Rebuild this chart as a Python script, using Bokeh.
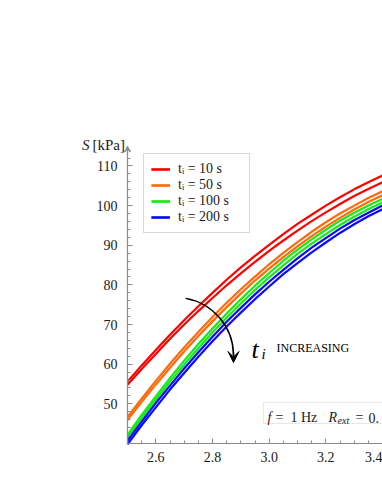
import math
from bokeh.plotting import figure
from bokeh.models import (Range1d, FixedTicker, Legend, LegendItem, Label, LinearAxis,
                          BoxAnnotation, Arrow, VeeHead, NumeralTickFormatter)
from bokeh.embed import file_html
from bokeh.resources import INLINE

# ---- data ----
x_vals = [2.50, 2.55, 2.60, 2.65, 2.70, 2.75, 2.80, 2.85, 2.90, 2.95,
          3.00, 3.05, 3.10, 3.15, 3.20, 3.25, 3.30, 3.35, 3.40]

red_upper = [55.6, 59.7, 63.6, 67.4, 71.1, 74.6, 78.0, 81.3, 84.4, 87.3,
             90.1, 92.8, 95.4, 97.7, 100.0, 102.1, 104.1, 105.9, 107.6]
red_lower = [54.8, 58.8, 62.6, 66.4, 70.0, 73.4, 76.7, 79.9, 82.9, 85.8,
             88.6, 91.2, 93.7, 96.1, 98.3, 100.4, 102.4, 104.2, 105.9]
orange_upper = [46.7, 51.3, 55.8, 60.1, 64.2, 68.1, 71.9, 75.5, 78.9, 82.1,
                85.2, 88.1, 90.8, 93.4, 95.8, 98.0, 100.0, 101.9, 103.6]
orange_lower = [45.9, 50.5, 54.9, 59.1, 63.2, 67.1, 70.8, 74.4, 77.8, 81.1,
                84.1, 87.0, 89.7, 92.3, 94.7, 96.9, 99.0, 100.9, 102.6]
green_upper = [42.2, 47.2, 51.9, 56.5, 60.9, 65.1, 69.0, 72.8, 76.4, 79.8,
               83.0, 86.1, 88.9, 91.5, 93.9, 96.2, 98.2, 100.0, 101.7]
green_lower = [41.5, 46.4, 51.1, 55.6, 59.9, 64.0, 68.0, 71.7, 75.3, 78.7,
               81.9, 84.9, 87.8, 90.4, 92.8, 95.1, 97.2, 99.1, 100.8]
blue_upper = [40.7, 45.5, 50.2, 54.6, 58.9, 63.0, 66.9, 70.7, 74.2, 77.6,
              80.8, 83.8, 86.7, 89.4, 91.8, 94.2, 96.3, 98.2, 100.0]
blue_lower = [39.8, 44.6, 49.1, 53.6, 57.8, 61.9, 65.8, 69.5, 73.0, 76.4,
              79.6, 82.7, 85.5, 88.2, 90.7, 93.1, 95.3, 97.3, 99.1]

series_labels = ["tᵢ = 10 s", "tᵢ = 50 s", "tᵢ = 100 s", "tᵢ = 200 s"]
series_colors = ["#ff0000", "#ff6a0a", "#14ec14", "#0a0aff"]
series_pairs = [(red_upper, red_lower), (orange_upper, orange_lower),
                (green_upper, green_lower), (blue_upper, blue_lower)]

x_major = [2.6, 2.8, 3.0, 3.2, 3.4]
x_minor = [2.50, 2.55, 2.60, 2.65, 2.70, 2.75, 2.80, 2.85, 2.90, 2.95,
           3.00, 3.05, 3.10, 3.15, 3.20, 3.25, 3.30, 3.35, 3.40]
y_major = [50, 60, 70, 80, 90, 100, 110]
y_minor = list(range(40, 115, 2))

FONT = "Liberation Serif"
AXIS_COL = "#8c8c8c"
TXT = "#1a1a1a"

# ---- layout: frame fills the whole canvas, axes sit at fixed data positions ----
W, H = 382, 486
XA, XB = 2.5, 3.4        # x extent of the axis
YA, YB = 40.0, 114.4     # y extent of the axis
AX_PX, AY_PX = 127, 443  # canvas pixel of the axes' corner
PX_PER_X = 255 / 0.9
PX_PER_Y = 3.965

def X(px):
    return XA + (px - AX_PX) / PX_PER_X
def Y(py):
    return YA + (AY_PX - py) / PX_PER_Y

p = figure(width=W, height=H, output_backend="svg", toolbar_location=None,
           x_range=Range1d(X(0), X(W)), y_range=Range1d(Y(H), Y(0)),
           x_axis_type=None, y_axis_type=None,
           min_border=0, min_border_left=0, min_border_right=0,
           min_border_top=0, min_border_bottom=0)
p.outline_line_color = None
p.background_fill_color = "white"
p.border_fill_color = "white"

xaxis = LinearAxis(fixed_location=YA, bounds=(XA, XB),
                   ticker=FixedTicker(ticks=x_major, minor_ticks=x_minor),
                   formatter=NumeralTickFormatter(format="0.0"))
yaxis = LinearAxis(fixed_location=XA, bounds=(YA, YB),
                   ticker=FixedTicker(ticks=y_major, minor_ticks=y_minor),
                   formatter=NumeralTickFormatter(format="0"))
for ax in (xaxis, yaxis):
    ax.axis_line_color = AXIS_COL
    ax.axis_line_width = 1.2
    ax.major_tick_line_color = AXIS_COL
    ax.minor_tick_line_color = AXIS_COL
    ax.major_tick_in = 5
    ax.major_tick_out = 0
    ax.minor_tick_in = 3
    ax.minor_tick_out = 0
    ax.major_label_text_font = FONT
    ax.major_label_text_font_size = "14px"
    ax.major_label_text_color = TXT
yaxis.major_label_standoff = 10
xaxis.major_label_standoff = 8
p.add_layout(xaxis, "below")
p.add_layout(yaxis, "left")

# y-axis arrow head
p.add_layout(Arrow(end=VeeHead(size=6, fill_color=AXIS_COL, line_color=AXIS_COL),
                   x_start=XA, y_start=YB - 1.5, x_end=XA, y_end=YB + 0.6,
                   line_color=AXIS_COL, line_width=1.2))

# curves
items = []
for lab, col, (up, lo) in zip(series_labels, series_colors, series_pairs):
    r1 = p.line(x_vals, up, line_color=col, line_width=2.2)
    r2 = p.line(x_vals, lo, line_color=col, line_width=2.2)
    items.append(LegendItem(label=lab, renderers=[r1, r2]))

legend = Legend(items=items, location=(143, H - 155 - 78),
                label_text_font=FONT, label_text_font_size="14px",
                label_text_color=TXT,
                glyph_width=19, glyph_height=16, label_height=16, label_width=64,
                label_standoff=8, spacing=0, padding=7, margin=0,
                border_line_color="#b4b4b4", border_line_width=1,
                background_fill_color="white", background_fill_alpha=1)
p.add_layout(legend)

# y-axis title "S [kPa]"
p.add_layout(Label(x=X(89), y=Y(144), text="S", text_font=FONT,
                   text_font_style="italic", text_font_size="15px",
                   text_align="right", text_baseline="alphabetic", text_color=TXT))
p.add_layout(Label(x=X(92), y=Y(144), text="[kPa]", text_font=FONT,
                   text_font_size="15px", text_align="left",
                   text_baseline="alphabetic", text_color=TXT))

# curved arrow "t_i increasing"
p.arc(x=[X(175)], y=[Y(355)], radius=58, radius_units="screen",
      start_angle=math.radians(80), end_angle=math.radians(1),
      direction="clock", line_color="black", line_width=1.5)
p.add_layout(Arrow(end=VeeHead(size=11, fill_color="black", line_color="black"),
                   x_start=X(233), y_start=Y(352), x_end=X(233), y_end=Y(362),
                   line_color="black", line_width=1.5))
p.add_layout(Label(x=X(251), y=Y(349), text="t", text_font=FONT,
                   text_font_style="italic", text_font_size="26px",
                   text_baseline="alphabetic", text_color="black"))
p.add_layout(Label(x=X(261), y=Y(353), text="i", text_font=FONT,
                   text_font_style="italic", text_font_size="15px",
                   text_baseline="alphabetic", text_color="black"))
p.add_layout(Label(x=X(276), y=Y(347), text="INCREASING", text_font=FONT,
                   text_font_size="12px", text_baseline="alphabetic",
                   text_color="black"))

# parameter box (runs off the right edge as in the original)
p.add_layout(BoxAnnotation(left=X(263), right=X(430), top=Y(402), bottom=Y(423),
                           fill_color="white", fill_alpha=1,
                           line_color="#b4b4b4", line_width=1))
box_pieces = [
    (267, 417, "f", "italic", "14px"),
    (275, 417, "=", "normal", "14px"),
    (290, 417, "1 Hz", "normal", "14px"),
    (328, 417, "R", "italic", "14px"),
    (337, 420, "ext", "italic", "10px"),
    (355, 417, "=", "normal", "14px"),
    (368, 417, "0.", "normal", "14px"),
]
for px, py, txt, sty, sz in box_pieces:
    p.add_layout(Label(x=X(px), y=Y(py), text=txt, text_font=FONT,
                       text_font_style=sty, text_font_size=sz,
                       text_baseline="alphabetic", text_color=TXT))

open("out.html", "w").write(file_html(p, INLINE))
